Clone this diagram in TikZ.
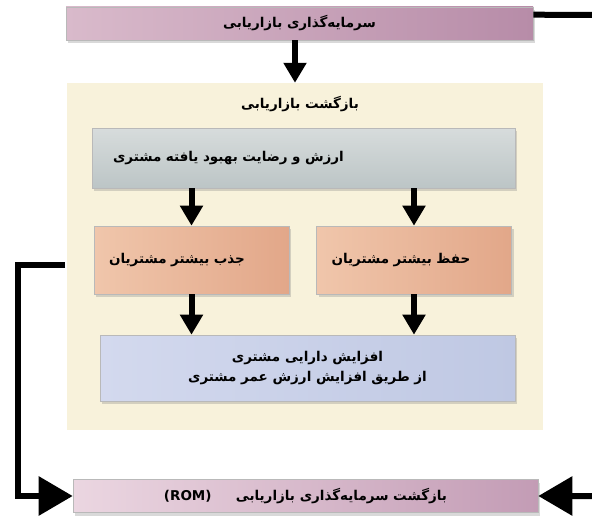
\documentclass[tikz,border=0pt]{standalone}
\usepackage{fontspec}
\newfontfamily\arabicfont[Script=Arabic]{DejaVu Sans}
\TeXXeTstate=1
\usetikzlibrary{arrows.meta,positioning,calc,shadows}

\definecolor{mauveL}{HTML}{D9BACB}
\definecolor{mauveD}{HTML}{B78CA8}
\definecolor{pinkL}{HTML}{EBD6E1}
\definecolor{pinkD}{HTML}{C39CB5}
\definecolor{cream}{HTML}{F8F2DB}
\definecolor{greyL}{HTML}{D7DCDC}
\definecolor{greyD}{HTML}{BCC5C6}
\definecolor{salmonL}{HTML}{F0C6AB}
\definecolor{salmonD}{HTML}{E2A789}
\definecolor{blueL}{HTML}{D3D9EE}
\definecolor{blueD}{HTML}{BFC8E3}

\begin{document}
\begin{tikzpicture}[
    x=1pt, y=-1pt,
    font=\arabicfont\bfseries\fontsize{13.5}{20}\selectfont,
    box/.style={draw=gray!55, line width=0.6pt, inner sep=0pt,
        drop shadow={shadow xshift=2pt, shadow yshift=-3pt, opacity=0.3}},
    invest/.style={box, minimum width=467pt, minimum height=33pt, left color=mauveL, right color=mauveD},
    rom/.style={box, minimum width=465pt, minimum height=33pt, left color=pinkL, right color=pinkD},
    panel/.style={fill=cream, minimum width=476pt, minimum height=347pt, inner sep=0pt},
    value/.style={box, text width=381pt, inner xsep=21pt, minimum height=60pt, align=left, top color=greyL, bottom color=greyD},
    cust/.style={box, text width=165pt, inner xsep=15pt, minimum height=68pt, align=left, left color=salmonL, right color=salmonD},
    equity/.style={box, minimum width=415pt, minimum height=66pt, align=center, left color=blueL, right color=blueD},
    flow/.style={-{Triangle[length=20pt, width=22pt]}, line width=6pt},
    feedback/.style={-{Triangle[length=34pt, width=38pt]}, line width=6pt, line join=miter}
]
    \useasboundingbox (0,0) rectangle (592,519);

    % Nodes
    \node[panel] (panel) at (305,256.5) {};
    \node (paneltitle) at (300,104) {\beginR بازگشت بازاریابی\endR};

    \node[invest] (invest) at (299.5,23.5) {\beginR سرمایه‌گذاری بازاریابی\endR};

    \node[value] (value) at (303.5,158) {\beginR ارزش و رضایت بهبود یافته مشتری\endR};

    \node[cust] (attract) at (191.5,260) {\beginR جذب بیشتر مشتریان\endR};
    \node[cust] (retain) at (414,260) {\beginR حفظ بیشتر مشتریان\endR};

    \node[equity] (equity) at (307.5,368) {\beginR افزایش دارایی مشتری\endR\\ \beginR از طریق افزایش ارزش عمر مشتری\endR};

    \node[rom] (rom) at (305.5,496) {\beginR بازگشت سرمایه‌گذاری بازاریابی\hspace{1.8em}\beginL(ROM)\endL\endR};

    \coordinate (fbstart) at (65,265);
    \coordinate (fbcorner) at (18,265);
    \coordinate (topright) at (600,15);
    \coordinate (botright) at (600,496);

    % Links
    \draw[flow] (invest.south -| 295,0) -- (295,0 |- panel.north);
    \draw[flow] (attract.north |- value.south) -- (attract.north);
    \draw[flow] (retain.north |- value.south) -- (retain.north);
    \draw[flow] (attract.south) -- (attract.south |- equity.north);
    \draw[flow] (retain.south) -- (retain.south |- equity.north);

    \draw[feedback] (fbstart) -- (fbcorner) |- (rom.west);
    \draw[feedback] ($(invest.north east)+(0,8)$) -- (topright) -- (botright) -- (rom.east);
\end{tikzpicture}
\end{document}
